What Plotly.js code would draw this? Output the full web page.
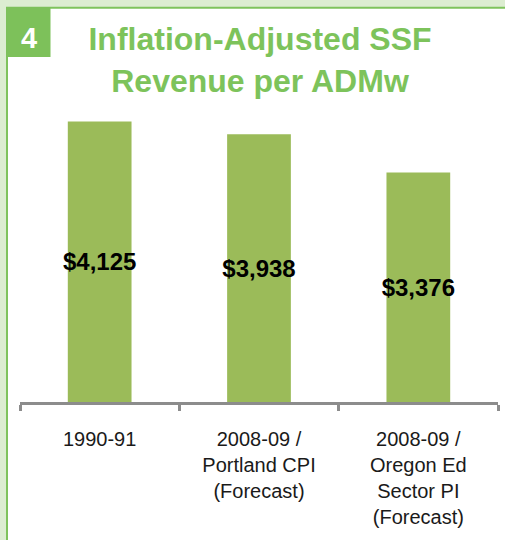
<!DOCTYPE html>
<html>
<head>
<meta charset="utf-8">
<script src="https://cdn.plot.ly/plotly-3.0.1.min.js"></script>
<style>
  html, body { margin: 0; padding: 0; background: #dcedd1; }
  #chart { width: 505px; height: 540px; }
</style>
</head>
<body>
<div id="chart"></div>
<script>
const categories = ['1990-91', '2008-09 / Portland CPI (Forecast)', '2008-09 / Oregon Ed Sector PI (Forecast)'];
const tickLabels = ['1990-91', '2008-09 /<br>Portland CPI<br>(Forecast)', '2008-09 /<br>Oregon Ed<br>Sector PI<br>(Forecast)'];
const revenue = [4125, 3938, 3376];
const valueLabels = ['$4,125', '$3,938', '$3,376'];

// plot area in px: left 20, right 498, top 96, bottom 402
const L = 20, R = 498, T = 96, B = 402;
const W = R - L, H = B - T;
const px = x => (x - L) / W;
const py = y => (B - y) / H;

const trace = {
  type: 'bar',
  x: categories,
  y: revenue,
  text: valueLabels,
  textposition: 'inside',
  insidetextanchor: 'middle',
  textangle: 0,
  constraintext: 'none',
  cliponaxis: false,
  textfont: { family: 'Liberation Sans, Arial, sans-serif', size: 24, color: '#000000', weight: 'bold' },
  marker: { color: '#9bbb59', line: { width: 0 } },
  hoverinfo: 'none'
};

const layout = {
  width: 505, height: 540,
  margin: { l: L, r: 505 - R, t: T, b: 540 - B, pad: 0 },
  paper_bgcolor: '#dcedd1',
  plot_bgcolor: 'rgba(0,0,0,0)',
  bargap: 0.6,
  showlegend: false,
  title: {
    text: '<b>Inflation-Adjusted SSF<br>Revenue per ADMw</b>',
    font: { family: 'Liberation Sans, Arial, sans-serif', size: 32, color: '#7dc35b' },
    x: 260 / 505, xanchor: 'center', xref: 'container',
    y: 1 - 50 / 540, yanchor: 'top', yref: 'container'
  },
  xaxis: {
    type: 'category',
    tickmode: 'array',
    tickvals: categories,
    ticktext: tickLabels,
    tickson: 'boundaries',
    ticks: 'outside',
    ticklen: 6,
    tickwidth: 3,
    tickcolor: '#8c8c8c',
    ticklabelstandoff: 17,
    showline: true,
    linecolor: '#8c8c8c',
    linewidth: 3,
    showgrid: false,
    zeroline: false,
    tickfont: { family: 'Liberation Sans, Arial, sans-serif', size: 20, color: '#1a1a1a' },
    range: [-0.5, 2.5]
  },
  yaxis: {
    range: [0, 4500],
    visible: false,
    showgrid: false,
    zeroline: false
  },
  shapes: [
    { type: 'rect', xref: 'paper', yref: 'paper', layer: 'below',
      x0: px(8), x1: px(506), y0: py(541), y1: py(8),
      fillcolor: '#ffffff', line: { width: 0 } },
    { type: 'line', xref: 'paper', yref: 'paper', layer: 'below',
      x0: px(6), x1: px(506), y0: py(7.8), y1: py(7.8),
      line: { color: '#7ec35c', width: 2 } },
    { type: 'line', xref: 'paper', yref: 'paper', layer: 'below',
      x0: px(7), x1: px(7), y0: py(7), y1: py(541),
      line: { color: '#7ec35c', width: 2 } },
    { type: 'rect', xref: 'paper', yref: 'paper', layer: 'below',
      x0: px(6), x1: px(50.5), y0: py(57), y1: py(7),
      fillcolor: '#7dc15a', line: { width: 0 } }
  ],
  annotations: [
    { text: '<b>4</b>', xref: 'paper', yref: 'paper', x: px(29), y: py(37.5),
      xanchor: 'center', yanchor: 'middle', showarrow: false,
      font: { family: 'Liberation Sans, Arial, sans-serif', size: 29, color: '#ffffff' } }
  ]
};

Plotly.newPlot('chart', [trace], layout, { displayModeBar: false, staticPlot: true });
</script>
</body>
</html>
